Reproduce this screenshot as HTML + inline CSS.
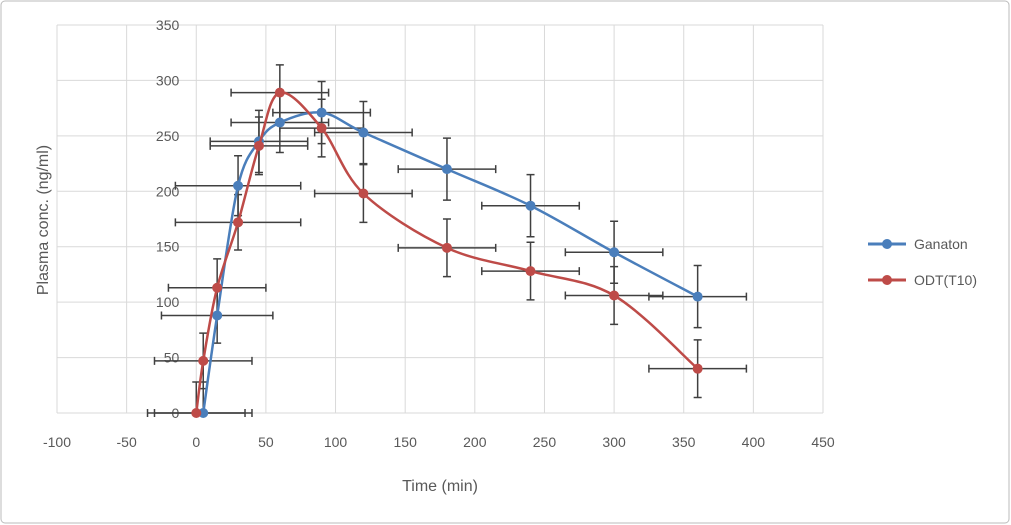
<!DOCTYPE html>
<html><head><meta charset="utf-8"><style>
body{margin:0;background:#fff;}
svg{display:block;font-family:"Liberation Sans",sans-serif;}
</style></head><body>
<svg id="chart" width="1011" height="525">
<rect x="1" y="1" width="1008" height="522" rx="4" fill="#fff" stroke="#bbb"/>
<g id="grid"></g><g id="ticks"></g><g id="errs"></g><g id="lines"></g>
<text x="440" y="491" font-size="16" fill="#595959" text-anchor="middle">Time (min)</text>
<text transform="translate(48,220) rotate(-90)" font-size="16" fill="#595959" text-anchor="middle">Plasma conc. (ng/ml)</text>
<g>
<g><line x1="868" y1="244" x2="906" y2="244" stroke="#4a7ebb" stroke-width="3"/><circle cx="887" cy="244" r="5" fill="#4a7ebb"/><text x="914" y="249" font-size="14" fill="#595959">Ganaton</text></g>
<g><line x1="868" y1="280" x2="906" y2="280" stroke="#be4b48" stroke-width="3"/><circle cx="887" cy="280" r="5" fill="#be4b48"/><text x="914" y="285" font-size="14" fill="#595959">ODT(T10)</text></g>
</g>
</svg>
<script>
const xTicks=[-100,-50,0,50,100,150,200,250,300,350,400,450];
const yTicks=[0,50,100,150,200,250,300,350];
const gX=[5,15,30,45,60,90,120,180,240,300,360];
const gY=[0,88,205,245,262,271,253,220,187,145,105];
const gYerr=[28,25,27,28,27,28,28,28,28,28,28];
const gXerr=[35,40,45,35,35,35,35,35,35,35,35];
const oX=[0,5,15,30,45,60,90,120,180,240,300,360];
const oY=[0,47,113,172,241,289,257,198,149,128,106,40];
const oYerr=[28,25,26,25,26,25,26,26,26,26,26,26];
const oXerr=[35,35,35,45,35,35,30,35,35,35,35,35];
const sx=v=>57+(v+100)*766/550, sy=v=>413-v*388/350;
const NS='http://www.w3.org/2000/svg';
function mk(p,t,a){const e=document.createElementNS(NS,t);for(const k in a)e.setAttribute(k,a[k]);document.getElementById(p).appendChild(e);return e;}
xTicks.forEach(t=>{
 const l=mk('grid','line',{x1:sx(t),x2:sx(t),y1:sy(350),y2:sy(0),stroke:'#d9d9d9'});
 
 
 const s=mk('ticks','text',{x:sx(t),y:447,'font-size':14,fill:'#595959','text-anchor':'middle'});s.textContent=t;
 
 
});
yTicks.forEach(t=>{
 const l=mk('grid','line',{x1:sx(-100),x2:sx(450),y1:sy(t),y2:sy(t),stroke:'#d9d9d9'});
 
 
 const s=mk('ticks','text',{x:sx(0)-17,y:sy(t)+5,'font-size':14,fill:'#595959','text-anchor':'end'});s.textContent=t;
 
 
});
function errs(X,Y,XE,YE,name){
 X.forEach((x,i)=>{
  const cx=sx(x),cy=sy(Y[i]),y1=sy(Math.max(0,Y[i]-YE[i])),y2=sy(Y[i]+YE[i]),x1=sx(x-XE[i]),x2=sx(x+XE[i]);
  const d=`M${cx},${y1}V${y2}M${cx-4},${y1}h8M${cx-4},${y2}h8M${x1},${cy}H${x2}M${x1},${cy-4}v8M${x2},${cy-4}v8`;
  const p=mk('errs','path',{d:d,stroke:'#404040','stroke-width':1.5,fill:'none'});
  
  
 });
}
errs(gX,gY,gXerr,gYerr,'ganaton');errs(oX,oY,oXerr,oYerr,'odt');
function series(X,Y,col,name){
 const P=X.map((x,i)=>[sx(x),sy(Y[i])]);let d=`M${P[0][0]},${P[0][1]}`;const t=0.5/3*2;
 for(let i=0;i<P.length-1;i++){
  const p0=P[Math.max(0,i-1)],p1=P[i],p2=P[i+1],p3=P[Math.min(P.length-1,i+2)];
  const c1=[p1[0]+(p2[0]-p0[0])*t/2,p1[1]+(p2[1]-p0[1])*t/2],c2=[p2[0]-(p3[0]-p1[0])*t/2,p2[1]-(p3[1]-p1[1])*t/2];
  d+=`C${c1[0]},${c1[1]} ${c2[0]},${c2[1]} ${p2[0]},${p2[1]}`;
 }
 const l=mk('lines','path',{d:d,stroke:col,'stroke-width':2.5,fill:'none'});
 
 
 P.forEach(p=>{const c=mk('lines','circle',{cx:p[0],cy:p[1],r:5,fill:col});
  
  });
}
series(gX,gY,'#4a7ebb','ganaton');series(oX,oY,'#be4b48','odt');
</script>
</body></html>
